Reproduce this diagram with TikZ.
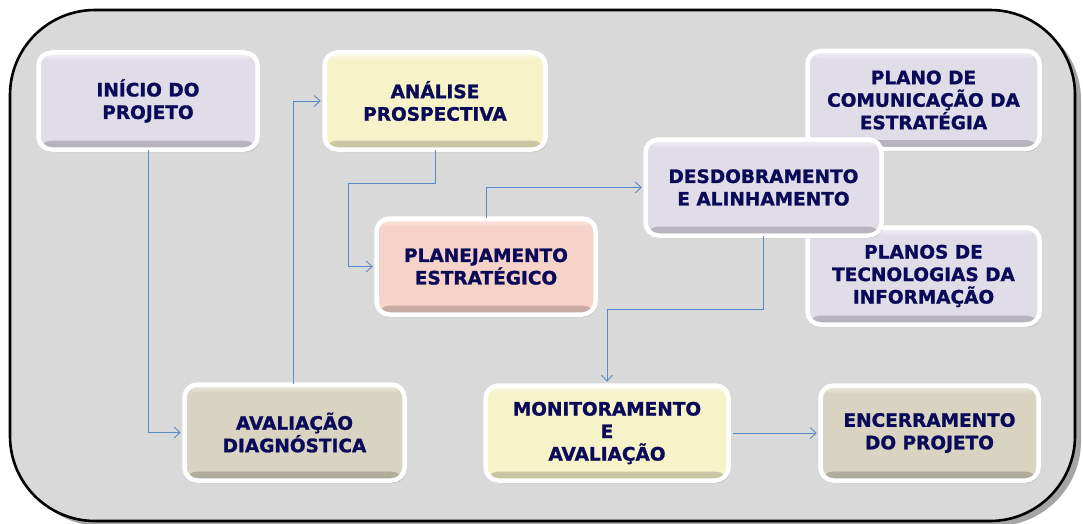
\documentclass[tikz,border=0pt]{standalone}
\usepackage{fontspec}
\setmainfont{DejaVu Sans}[BoldFeatures={FakeBold=1.3}]
\usetikzlibrary{arrows.meta,shadows,calc}
\definecolor{framegray}{HTML}{D9D9D9}
\definecolor{lav}{HTML}{E1DDE8}
\definecolor{yel}{HTML}{F6F3C9}
\definecolor{pnk}{HTML}{F6D3C8}
\definecolor{kha}{HTML}{D9D4C1}
\definecolor{navy}{HTML}{0A0A58}
\definecolor{conn}{HTML}{5A8AC6}
\tikzset{
  box/.style={rounded corners=13pt, draw=white, line width=4.5pt, fill=#1,
    text=navy, align=center, inner sep=0pt,
    font=\fontsize{18.5}{22.5}\selectfont\bfseries,
    drop shadow={shadow xshift=1.5pt, shadow yshift=-2.5pt, opacity=.35, fill=black!60},
    path picture={\fill[top color=#1, bottom color=#1!80!black]
      ([yshift=9pt]path picture bounding box.south west) rectangle (path picture bounding box.south east);
      \fill[top color=white!60!#1, bottom color=#1]
      (path picture bounding box.north west) rectangle ([yshift=-8pt]path picture bounding box.north east);}},
  connector/.style={draw=conn, line width=0.9pt, -{Straight Barb[length=6pt,width=11pt]}, shorten >=1.5pt}
}
\begin{document}
\begin{tikzpicture}[x=1pt,y=-1pt]
\useasboundingbox (0,0) rectangle (1083,524);
\draw[line width=2.6pt, fill=framegray, rounded corners=85pt,
  drop shadow={shadow xshift=6pt, shadow yshift=-5pt, opacity=.5, fill=black!70}]
  (10,10) rectangle (1075,521);

\node[box=lav, minimum width=219pt, minimum height=97pt] (ini) at (148,101) {INÍCIO DO\\PROJETO};
\node[box=yel, minimum width=221pt, minimum height=97pt] (ana) at (435,101) {ANÁLISE\\PROSPECTIVA};
\node[box=lav, minimum width=232pt, minimum height=98pt] (com) at (923.5,100) {PLANO DE\\COMUNICAÇÃO DA\\ESTRATÉGIA};
\node[box=lav, minimum width=232pt, minimum height=97pt] (tec) at (923.5,276) {PLANOS DE\\TECNOLOGIAS DA\\INFORMAÇÃO};
\node[box=pnk, minimum width=219pt, minimum height=96pt] (pla) at (486,266.5) {PLANEJAMENTO\\ESTRATÉGICO};
\node[box=lav, minimum width=236pt, minimum height=96pt] (des) at (763.5,187.5) {DESDOBRAMENTO\\E ALINHAMENTO};
\node[box=kha, minimum width=220pt, minimum height=96pt] (avd) at (294.5,432.5) {AVALIAÇÃO\\DIAGNÓSTICA};
\node[box=yel, minimum width=243pt, minimum height=95pt] (mon) at (607,433) {MONITORAMENTO\\E\\AVALIAÇÃO};
\node[box=kha, minimum width=218pt, minimum height=95pt] (enc) at (929.5,433) {ENCERRAMENTO\\DO PROJETO};

\coordinate (k1) at (348,183);
\coordinate (k2) at (607,309);

\draw[connector] ([yshift=2pt]ini.south) |- (avd.west);
\draw[connector] ([yshift=-2pt,xshift=-1.5pt]avd.north) |- (ana.west);
\draw[connector] ([yshift=2pt]ana.south) |- (k1) |- (pla.west);
\draw[connector] ([yshift=-2pt]pla.north) |- (des.west);
\draw[connector] ([yshift=2pt]des.south) |- (k2) -- (mon.north);
\draw[connector] ([xshift=2pt]mon.east) -- (enc.west);
\end{tikzpicture}
\end{document}
